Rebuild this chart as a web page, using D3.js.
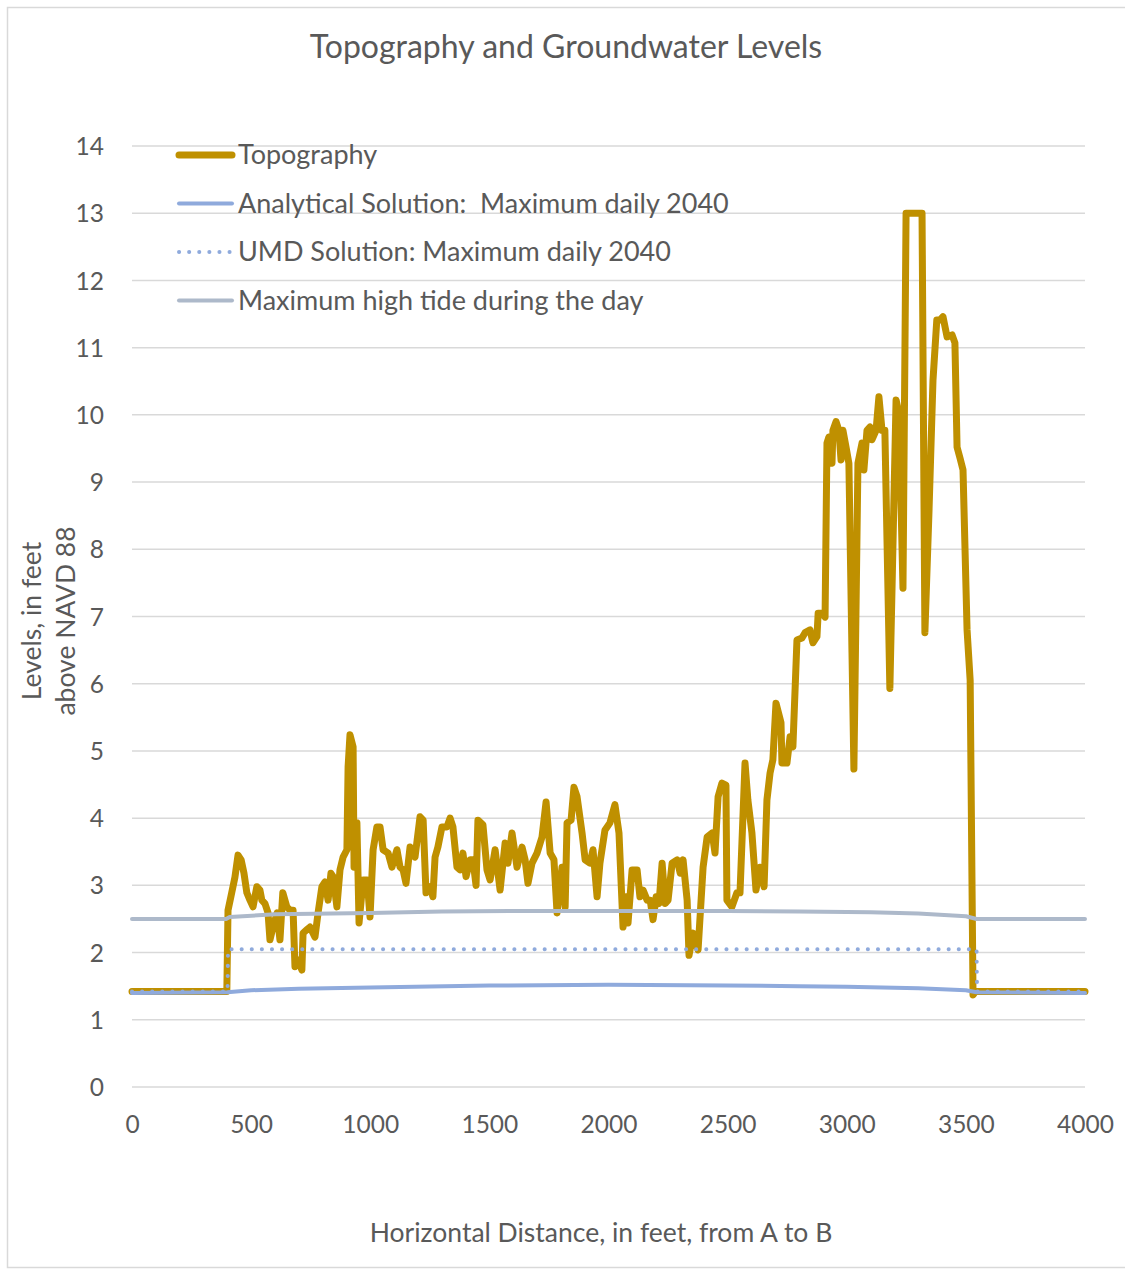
<!doctype html>
<html lang="en">
<head>
<meta charset="utf-8">
<title>Topography and Groundwater Levels</title>
<script src="https://d3js.org/d3.v7.min.js"></script>
<style>
  body { margin: 0; background: #fff; }
  text { font-family: Lato, "Open Sans", sans-serif; fill: #595959; white-space: pre; }
  .grid line { stroke: #d9d9d9; stroke-width: 1.5; }
</style>
</head>
<body>
<div id="chart"></div>
<script>
// topography profile, distance (ft) and elevation (ft NAVD 88)
var topoX = [0, 398, 403, 415, 432, 445, 458, 470, 482, 495, 508, 524, 537, 545, 558, 571, 579, 592, 609, 621,
  633, 650, 663, 676, 684, 697, 713, 718, 734, 747, 768, 781, 797, 810, 823, 835, 844, 860, 873, 886,
  902, 907, 915, 928, 932, 944, 953, 970, 987, 999, 1012, 1028, 1041, 1054, 1075, 1091, 1112, 1125, 1138, 1150,
  1167, 1188, 1209, 1222, 1234, 1251, 1263, 1272, 1284, 1301, 1322, 1335, 1347, 1364, 1377, 1389, 1402, 1419, 1431, 1444,
  1452, 1473, 1490, 1503, 1524, 1545, 1566, 1578, 1595, 1616, 1637, 1650, 1662, 1679, 1700, 1721, 1738, 1755, 1771, 1784,
  1805, 1818, 1826, 1843, 1855, 1868, 1889, 1902, 1922, 1935, 1952, 1964, 1985, 2006, 2027, 2044, 2061, 2074, 2082, 2099,
  2120, 2132, 2145, 2162, 2175, 2187, 2200, 2212, 2225, 2238, 2250, 2267, 2288, 2301, 2313, 2330, 2338, 2355, 2376, 2397,
  2414, 2435, 2447, 2460, 2476, 2493, 2497, 2518, 2539, 2552, 2573, 2585, 2602, 2619, 2636, 2653, 2665, 2678, 2690, 2703,
  2724, 2728, 2749, 2762, 2774, 2791, 2812, 2825, 2846, 2858, 2875, 2880, 2896, 2909, 2917, 2925, 2938, 2942, 2955, 2967,
  2976, 2984, 2997, 3009, 3022, 3030, 3047, 3064, 3072, 3085, 3098, 3106, 3123, 3135, 3148, 3160, 3181, 3207, 3219, 3236,
  3249, 3316, 3328, 3345, 3362, 3378, 3391, 3404, 3421, 3442, 3454, 3463, 3476, 3488, 3505, 3518, 3530, 3540, 4000];
var topoY = [1.42, 1.42, 2.63, 2.83, 3.12, 3.45, 3.38, 3.18, 2.89, 2.78, 2.68, 2.98, 2.93, 2.78, 2.73, 2.59, 2.19, 2.38, 2.59, 2.19,
  2.89, 2.68, 2.63, 2.63, 1.79, 1.89, 1.74, 2.29, 2.34, 2.38, 2.23, 2.59, 2.98, 3.05, 2.78, 3.18, 3.13, 2.68, 3.23, 3.42,
  3.53, 4.76, 5.24, 5.06, 3.27, 3.93, 2.44, 3.08, 3.08, 2.53, 3.53, 3.87, 3.87, 3.53, 3.48, 3.27, 3.53, 3.27, 3.23, 3.03,
  3.57, 3.42, 4.02, 3.97, 2.89, 2.98, 2.83, 3.42, 3.57, 3.87, 3.87, 4.00, 3.87, 3.27, 3.23, 3.48, 3.13, 3.38, 3.38, 3.00,
  3.97, 3.90, 3.23, 3.08, 3.53, 2.93, 3.63, 3.33, 3.78, 3.27, 3.57, 3.38, 3.03, 3.33, 3.48, 3.72, 4.24, 3.48, 3.38, 2.59,
  3.27, 2.68, 3.93, 3.97, 4.46, 4.32, 3.78, 3.38, 3.33, 3.53, 2.83, 3.33, 3.82, 3.93, 4.20, 3.78, 2.38, 2.83, 2.44, 3.23,
  3.23, 2.83, 2.93, 2.78, 2.78, 2.49, 2.83, 2.73, 3.33, 2.73, 2.78, 3.33, 3.38, 3.18, 3.38, 2.78, 1.96, 2.29, 2.04, 3.27,
  3.72, 3.78, 3.48, 4.32, 4.52, 4.49, 2.78, 2.68, 2.89, 2.89, 4.82, 4.27, 3.78, 2.93, 3.27, 2.98, 4.27, 4.67, 4.87, 5.71,
  5.42, 4.82, 4.82, 5.21, 5.06, 6.65, 6.68, 6.76, 6.80, 6.61, 6.70, 7.05, 7.05, 6.99, 9.58, 9.67, 9.28, 9.77, 9.90, 9.77,
  9.33, 9.77, 9.52, 9.28, 6.46, 4.73, 9.28, 9.58, 9.18, 9.77, 9.82, 9.63, 9.77, 10.27, 9.77, 9.77, 5.93, 10.22, 10.03, 7.42,
  13.0, 13.0, 6.76, 8.54, 10.52, 11.41, 11.41, 11.46, 11.16, 11.19, 11.07, 9.52, 9.35, 9.18, 6.80, 6.05, 1.37, 1.42, 1.42];

// analytical solution, maximum daily 2040
var analyticX = [0, 400, 500, 700, 1000, 1500, 2000, 2500, 2800, 3000, 3300, 3500, 3545, 4000];
var analyticY = [1.40, 1.41, 1.44, 1.46, 1.48, 1.51, 1.52, 1.51, 1.50, 1.49, 1.47, 1.44, 1.41, 1.40];

// UMD solution, maximum daily 2040
var umdX = [0, 401, 403, 3545, 3547, 4000];
var umdY = [1.42, 1.42, 2.05, 2.05, 1.42, 1.42];

// maximum high tide during the day
var tideX = [0, 395, 410, 600, 1000, 1300, 1700, 2000, 2500, 2800, 3100, 3300, 3500, 3545, 4000];
var tideY = [2.50, 2.50, 2.53, 2.57, 2.59, 2.61, 2.62, 2.62, 2.62, 2.61, 2.60, 2.58, 2.54, 2.50, 2.50];

var legendNames = ["Topography", "Analytical Solution:  Maximum daily 2040",
  "UMD Solution: Maximum daily 2040", "Maximum high tide during the day"];
var xTicks = [0, 500, 1000, 1500, 2000, 2500, 3000, 3500, 4000];
var yTicks = [0, 1, 2, 3, 4, 5, 6, 7, 8, 9, 10, 11, 12, 13, 14];

var width = 1125, height = 1270;
var margin = {left: 132, right: 40, top: 146, bottom: 183};

var svg = d3.select("#chart").append("svg")
  .attr("width", width)
  .attr("height", height);

svg.append("rect")
  .attr("x", 7.5).attr("y", 7.5)
  .attr("width", width).attr("height", height - 10)
  .attr("fill", "#fff")
  .attr("stroke", "#d9d9d9")
  .attr("stroke-width", 1.5);

var x = d3.scaleLinear().domain([0, 4000]).range([margin.left, width - margin.right]);
var y = d3.scaleLinear().domain([0, 14]).range([height - margin.bottom, margin.top]);

// gridlines
svg.append("g").attr("class", "grid")
  .selectAll("line")
  .data(yTicks)
  .enter().append("line")
  .attr("x1", x(0)).attr("x2", x(4000))
  .attr("y1", function(d) { return y(d); })
  .attr("y2", function(d) { return y(d); });

// axes (labels only, like the original)
var yAxis = svg.append("g")
  .attr("transform", "translate(" + (x(0) - 28) + ",0)")
  .call(d3.axisLeft(y).tickValues(yTicks).tickSize(0).tickPadding(0));
yAxis.select(".domain").remove();
yAxis.selectAll("text").style("font-size", "24.5px").style("font-family", null).attr("fill", null).attr("dy", "0.35em");

var xAxis = svg.append("g")
  .attr("transform", "translate(0," + (y(0) + 29) + ")")
  .call(d3.axisBottom(x).tickValues(xTicks).tickFormat(d3.format("d")).tickSize(0).tickPadding(0));
xAxis.select(".domain").remove();
xAxis.selectAll("text").style("font-size", "24.5px").style("font-family", null).attr("fill", null);

function series(xs, ys) {
  return xs.map(function(d, i) { return [d, ys[i]]; });
}
var line = d3.line()
  .x(function(d) { return x(d[0]); })
  .y(function(d) { return y(d[1]); });

var styles = [
  {data: series(topoX, topoY), color: "#bf9000", width: 7, dash: null},
  {data: series(analyticX, analyticY), color: "#8faadc", width: 4, dash: null},
  {data: series(umdX, umdY), color: "#8faadc", width: 4, dash: "0.1 10"},
  {data: series(tideX, tideY), color: "#adb9ca", width: 4, dash: null}
];

svg.append("g").selectAll("path")
  .data(styles)
  .enter().append("path")
  .attr("d", function(d) { return line(d.data); })
  .attr("fill", "none")
  .attr("stroke", function(d) { return d.color; })
  .attr("stroke-width", function(d) { return d.width; })
  .attr("stroke-linejoin", "round")
  .attr("stroke-linecap", "round")
  .attr("stroke-dasharray", function(d) { return d.dash; });

// legend
var legend = svg.append("g").selectAll("g")
  .data(styles)
  .enter().append("g")
  .attr("transform", function(d, i) { return "translate(179," + (155 + i * 48.5) + ")"; });
legend.append("line")
  .attr("x1", 0).attr("x2", 53)
  .attr("stroke", function(d) { return d.color; })
  .attr("stroke-width", function(d) { return d.width; })
  .attr("stroke-linecap", "round")
  .attr("stroke-dasharray", function(d) { return d.dash; });
legend.append("text")
  .attr("x", 59)
  .attr("dy", "0.35em")
  .style("font-size", "27px")
  .text(function(d, i) { return legendNames[i]; });

svg.append("text")
  .attr("x", 566).attr("y", 47)
  .attr("text-anchor", "middle")
  .attr("dy", "0.35em")
  .style("font-size", "32px")
  .text("Topography and Groundwater Levels");

svg.append("text")
  .attr("x", 601).attr("y", 1233)
  .attr("text-anchor", "middle")
  .attr("dy", "0.35em")
  .style("font-size", "26.5px")
  .text("Horizontal Distance, in feet, from A to B");

var yTitle = svg.append("text")
  .attr("transform", "translate(32,621) rotate(-90)")
  .attr("text-anchor", "middle")
  .style("font-size", "26.5px");
yTitle.append("tspan").attr("x", 0).attr("dy", "0.35em").text("Levels, in feet");
yTitle.append("tspan").attr("x", 0).attr("dy", "1.28em").text("above NAVD 88");
</script>
</body>
</html>
